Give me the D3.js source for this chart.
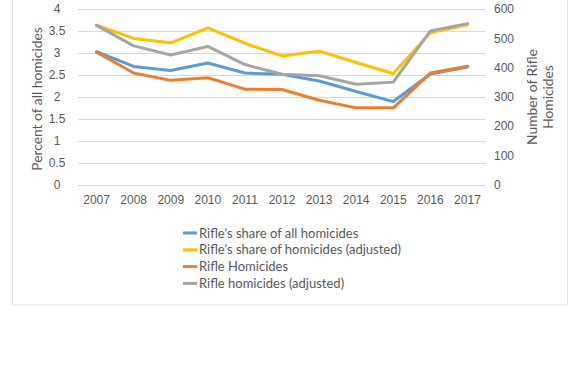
<!DOCTYPE html>
<html><head><meta charset="utf-8">
<script src="https://cdn.jsdelivr.net/npm/d3@7"></script>
<style>html,body{margin:0;padding:0;background:#fff;}svg{display:block;font-family:Lato,"Open Sans",sans-serif;}</style>
</head><body>
<svg id="c" width="580" height="375"></svg>
<script>
const years = ["2007","2008","2009","2010","2011","2012","2013","2014","2015","2016","2017"];
const shareAll = [3.03,2.69,2.60,2.77,2.54,2.51,2.36,2.12,1.89,2.52,2.68];
const shareAdj = [3.63,3.33,3.23,3.57,3.22,2.93,3.04,2.78,2.53,3.46,3.64];
const rifleHom = [452,381,356,365,326,325,288,262,262,381,404];
const rifleAdj = [544,474,443,472,410,377,372,343,350,525,550];
const leftTicks = [0,0.5,1,1.5,2,2.5,3,3.5,4];
const rightTicks = [0,100,200,300,400,500,600];
const seriesNames = ["Rifle's share of all homicides","Rifle's share of homicides (adjusted)","Rifle Homicides","Rifle homicides (adjusted)"];
const colors = ["#5B9BD5","#FFC000","#ED7D31","#A5A5A5"];

const svg = d3.select("#c");
const textCol = "#595959";
svg.append("rect").attr("x",12.5).attr("y",-2).attr("width",555).attr("height",307)
  .attr("fill","none").attr("stroke","#e3e3e3");

const x = d3.scaleBand().domain(years).range([78,486]);
const yL = d3.scaleLinear().domain([0,4]).range([184.5,9]);
const yR = d3.scaleLinear().domain([0,600]).range([184.5,9]);

// gridlines
svg.append("g").selectAll("line").data(leftTicks).join("line")
  .attr("x1",78).attr("x2",486).attr("y1",d=>Math.round(yL(d))+0.5).attr("y2",d=>Math.round(yL(d))+0.5)
  .attr("stroke","#d9d9d9").attr("stroke-width",1);

// left axis
const gl = svg.append("g").attr("transform","translate(70,0)")
  .call(d3.axisLeft(yL).tickValues(leftTicks).tickSize(0).tickPadding(0).tickFormat(d3.format("")));
gl.select(".domain").remove();
gl.selectAll("text").attr("fill",textCol).style("font-size","12px").attr("text-anchor","middle").attr("x",-13);

// right axis
const gr = svg.append("g").attr("transform","translate(494,0)")
  .call(d3.axisRight(yR).tickValues(rightTicks).tickSize(0).tickPadding(0));
gr.select(".domain").remove();
gr.selectAll("text").attr("fill",textCol).style("font-size","12px");

// bottom axis
const gb = svg.append("g").attr("transform","translate(0,193)")
  .call(d3.axisBottom(x).tickSize(0).tickPadding(2));
gb.select(".domain").remove();
gb.selectAll("text").attr("fill",textCol).style("font-size","12px");

// axis titles
svg.append("text").attr("transform","translate(42,99) rotate(-90)").attr("text-anchor","middle")
  .attr("fill",textCol).style("font-size","13.8px").text("Percent of all homicides");
svg.append("text").attr("transform","translate(537,97) rotate(-90)").attr("text-anchor","middle")
  .attr("fill",textCol).style("font-size","13.8px").text("Number of Rifle");
svg.append("text").attr("transform","translate(553,97) rotate(-90)").attr("text-anchor","middle")
  .attr("fill",textCol).style("font-size","13.8px").text("Homicides");

const cx = d => x(d) + x.bandwidth()/2;
const data = [
  {v:shareAll, s:yL},{v:shareAdj, s:yL},{v:rifleHom, s:yR},{v:rifleAdj, s:yR}
];
data.forEach((d,i)=>{
  const line = d3.line().x((v,j)=>cx(years[j])).y(v=>d.s(v));
  svg.append("path").attr("d",line(d.v)).attr("fill","none").attr("stroke",colors[i])
    .attr("stroke-width",3).attr("stroke-linejoin","round").attr("stroke-linecap","round");
});

// legend
const lg = svg.append("g");
seriesNames.forEach((n,i)=>{
  const yy = 233 + i*16.8;
  lg.append("line").attr("x1",183).attr("x2",197).attr("y1",yy).attr("y2",yy)
    .attr("stroke",colors[i]).attr("stroke-width",3);
  lg.append("text").attr("x",199).attr("y",yy+4.5).attr("fill",textCol).style("font-size","13px").text(n);
});
</script>
</body></html>
